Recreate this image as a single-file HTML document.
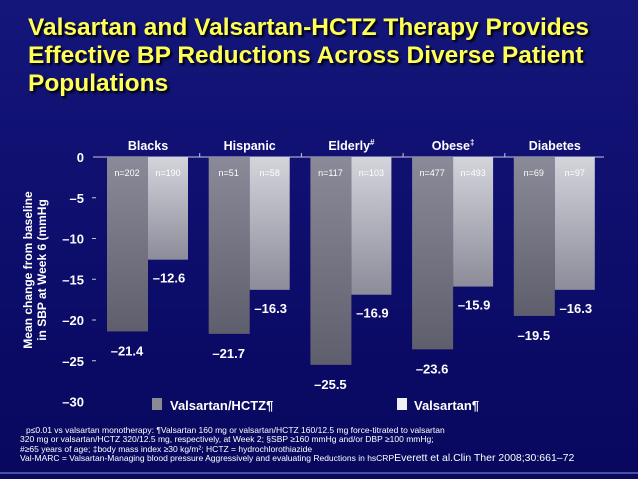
<!DOCTYPE html>
<html><head><meta charset="utf-8"><style>
body{margin:0;width:638px;height:479px;overflow:hidden;background:linear-gradient(180deg,#14167a 0%,#0c0c6a 60%,#08085e 100%);font-family:"Liberation Sans",sans-serif;}
#title{position:absolute;left:28px;top:14px;color:#ffff55;font-weight:bold;font-size:24.5px;line-height:28px;text-shadow:2px 2px 2px #000;white-space:nowrap}
.foot{position:absolute;left:20px;color:#fff;font-size:8.5px;line-height:9px;white-space:nowrap}
#bottomline{position:absolute;left:0;top:472px;width:638px;height:2px;background:#4a50a0}
</style></head><body>
<div id="title">Valsartan and Valsartan-HCTZ Therapy Provides<br>Effective BP Reductions Across Diverse Patient<br>Populations</div>
<svg id="chart" width="638" height="479" style="position:absolute;left:0;top:0">
<defs>
<linearGradient id="gH" x1="0" y1="0" x2="0" y2="1"><stop offset="0" stop-color="#8a8a98"/><stop offset="1" stop-color="#5e5e6c"/></linearGradient>
<linearGradient id="gV" x1="0" y1="0" x2="0" y2="1"><stop offset="0" stop-color="#d4d4dc"/><stop offset="1" stop-color="#8c8c9a"/></linearGradient>
</defs>
</svg>
<div class="foot" style="top:426px;left:26px">p≤0.01 vs valsartan monotherapy: ¶Valsartan 160 mg or valsartan/HCTZ 160/12.5 mg force-titrated to valsartan</div>
<div class="foot" style="top:435px">320 mg or valsartan/HCTZ 320/12.5 mg, respectively, at Week 2; §SBP ≥160 mmHg and/or DBP ≥100 mmHg;</div>
<div class="foot" style="top:445px">#≥65 years of age; ‡body mass index ≥30 kg/m²; HCTZ = hydrochlorothiazide</div>
<div class="foot" style="top:454px">Val-MARC = Valsartan-Managing blood pressure Aggressively and evaluating Reductions in hsCRP<span style="font-size:10.5px">Everett et al.Clin Ther 2008;30:661–72</span></div>
<div id="bottomline"></div>
<script>
const categories=["Blacks","Hispanic","Elderly#","Obese‡","Diabetes"];
const hctzValues=[-21.4,-21.7,-25.5,-23.6,-19.5];
const valsValues=[-12.6,-16.3,-16.9,-15.9,-16.3];
const hctzN=["n=202","n=51","n=117","n=477","n=69"];
const valsN=["n=190","n=58","n=103","n=493","n=97"];
const yTicks=[0,-5,-10,-15,-20,-25,-30];
const svg=document.getElementById('chart');
const NS="http://www.w3.org/2000/svg";
const y=v=>157-v*8.15;
const gx=i=>107+i*101.7;
function el(t,a,txt){const e=document.createElementNS(NS,t);for(const k in a)e.setAttribute(k,a[k]);if(txt!=null)e.textContent=txt;svg.appendChild(e);return e;}
let ax=el('line',{x1:93,x2:604,y1:157,y2:157,stroke:'#c8c8d8','stroke-width':1});


yTicks.forEach(t=>{
 let tx=el('text',{x:84,y:y(t)+5,fill:'#fff','font-size':13,'font-weight':'bold','text-anchor':'end'},t===0?'0':'–'+Math.abs(t));
 
 
 if(t!==0&&t!==-30){let l=el('line',{x1:92,x2:96,y1:y(t),y2:y(t),stroke:'#c8c8d8'});
 
 }
});
for(let i=1;i<categories.length;i++){let l=el('line',{x1:gx(i)-9,x2:gx(i)-9,y1:153,y2:157,stroke:'#c8c8d8'});
 
 }
categories.forEach((c,i)=>{
 const x=gx(i);
 let cl=el('text',{x:x+41,y:150,fill:'#fff','font-size':12.5,'font-weight':'bold','text-anchor':'middle'},c.replace(/[#‡]/,''));
 if(/[#‡]/.test(c)){let s=document.createElementNS(NS,'tspan');s.setAttribute('font-size',8);s.setAttribute('dy',-5);s.textContent=c.slice(-1);cl.appendChild(s);}
 
 
 let b1=el('rect',{x:x,y:157,width:41,height:y(hctzValues[i])-157,fill:'url(#gH)'});
 
 
 let b2=el('rect',{x:x+41,y:157,width:40,height:y(valsValues[i])-157,fill:'url(#gV)'});
 
 
 let n1=el('text',{x:x+20,y:176,fill:'#fff','font-size':9,'text-anchor':'middle'},hctzN[i]);
 
 
 let n2=el('text',{x:x+61,y:176,fill:'#fff','font-size':9,'text-anchor':'middle'},valsN[i]);
 
 
 let v1=el('text',{x:x+20,y:y(hctzValues[i])+24,fill:'#fff','font-size':13,'font-weight':'bold','text-anchor':'middle'},'–'+Math.abs(hctzValues[i]).toFixed(1));
 
 
 let v2=el('text',{x:x+62,y:y(valsValues[i])+23,fill:'#fff','font-size':13,'font-weight':'bold','text-anchor':'middle'},'–'+Math.abs(valsValues[i]).toFixed(1));
 
 
});
let yt=el('text',{transform:'translate(32,270) rotate(-90)',fill:'#fff','font-size':12,'font-weight':'bold','text-anchor':'middle'});


[['Mean change from baseline',0],['in SBP at Week 6 (mmHg',14]].forEach(([s,d])=>{let t=document.createElementNS(NS,'tspan');t.setAttribute('x',0);t.setAttribute('dy',d);t.textContent=s;yt.appendChild(t);});
let lg1=el('rect',{x:152,y:398,width:10,height:12,fill:'#8a8a94'});


let lt1=el('text',{x:170,y:410,fill:'#fff','font-size':13,'font-weight':'bold'},'Valsartan/HCTZ¶');


let lg2=el('rect',{x:397,y:398,width:10,height:12,fill:'#f0f0f4'});


let lt2=el('text',{x:414,y:410,fill:'#fff','font-size':13,'font-weight':'bold'},'Valsartan¶');


</script>
</body></html>
